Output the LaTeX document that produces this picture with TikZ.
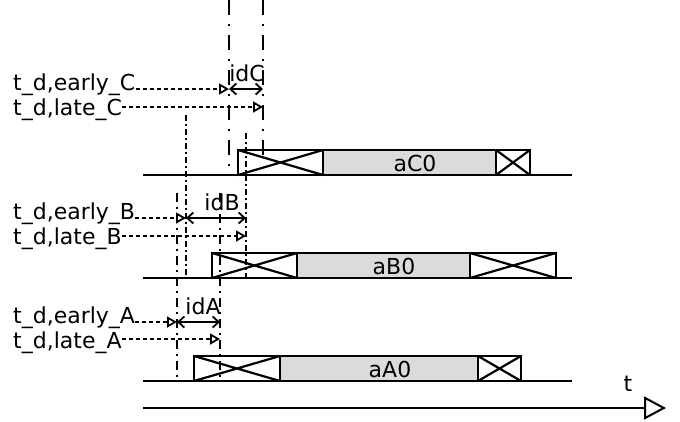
\documentclass[tikz,border=0pt]{standalone}
\usepackage{fontspec}
\setmainfont{DejaVu Sans}
\usetikzlibrary{arrows.meta}
\begin{document}
\begin{tikzpicture}[x=1pt,y=-1pt,
  lbl/.style={font=\fontsize{22}{26}\selectfont, inner sep=0pt, anchor=base west},
  idlbl/.style={font=\fontsize{22}{26}\selectfont, inner sep=0pt, anchor=base},
  seglbl/.style={font=\fontsize{22}{26}\selectfont, inner sep=0pt},
  tdarr/.style={line width=2pt, dash pattern=on 4pt off 3pt, -{Triangle[open,length=10pt,width=11pt,line width=1.8pt]}},
  idarr/.style={line width=2pt, {Straight Barb[length=6pt,width=11pt,line width=1.8pt]}-{Straight Barb[length=6pt,width=11pt,line width=1.8pt]}},
  dashC/.style={line width=2.2pt, dash pattern=on 15pt off 9pt on 2pt off 9pt},
  dashB/.style={line width=2.2pt, dash pattern=on 6pt off 3pt on 2pt off 3pt},
  dashA/.style={line width=2.2pt, dash pattern=on 9pt off 5pt on 2pt off 5pt},
  baseln/.style={line width=2.2pt},
  boxln/.style={line width=2.2pt},
  segfill/.style={fill=black!14},
]
\useasboundingbox (0,0) rectangle (680,421);

% ---------- C row ----------
\draw[baseln] (143,175) -- (572,175);
\fill[segfill] (323,150) rectangle (496,175);
\draw[boxln] (238,150) rectangle (530,175);
\draw[boxln] (323,150) -- (323,175) (496,150) -- (496,175);
\draw[boxln] (238,150) -- (323,175) (238,175) -- (323,150);
\draw[boxln] (496,150) -- (530,175) (496,175) -- (530,150);
\node[seglbl] (aC) at (415,163) {aC0};

% ---------- B row ----------
\draw[baseln] (143,278) -- (572,278);
\fill[segfill] (297,253) rectangle (470,278);
\draw[boxln] (212,253) rectangle (556,278);
\draw[boxln] (297,253) -- (297,278) (470,253) -- (470,278);
\draw[boxln] (212,253) -- (297,278) (212,278) -- (297,253);
\draw[boxln] (470,253) -- (556,278) (470,278) -- (556,253);
\node[seglbl] (aB) at (394,266) {aB0};

% ---------- A row ----------
\draw[baseln] (143,381) -- (572,381);
\fill[segfill] (280,356) rectangle (478,381);
\draw[boxln] (194,356) rectangle (521,381);
\draw[boxln] (280,356) -- (280,381) (478,356) -- (478,381);
\draw[boxln] (194,356) -- (280,381) (194,381) -- (280,356);
\draw[boxln] (478,356) -- (521,381) (478,381) -- (521,356);
\node[seglbl] (aA) at (390,369) {aA0};

% ---------- vertical marker lines ----------
\coordinate (Ctop1) at (229,0);   \coordinate (Cbot1) at (229,168);
\coordinate (Ctop2) at (263,0);   \coordinate (Cbot2) at (263,156);
\coordinate (Btop1) at (186,115); \coordinate (Bbot1) at (186,278);
\coordinate (Btop2) at (246,133); \coordinate (Bbot2) at (246,278);
\coordinate (Atop1) at (177,193); \coordinate (Abot1) at (177,380);
\coordinate (Atop2) at (220,193); \coordinate (Abot2) at (220,380);
\draw[dashC] (Ctop1) -- (Cbot1);
\draw[dashC] (Ctop2) -- (Cbot2);
\draw[dashB] (Btop1) -- (Bbot1);
\draw[dashB] (Btop2) -- (Bbot2);
\draw[dashA] (Atop1) -- (Abot1);
\draw[dashA] (Atop2) -- (Abot2);

% ---------- labels ----------
\node[lbl] (eC) at (13,90) {t\_d,early\_C};
\node[lbl] (lC) at (13,115) {t\_d,late\_C};
\node[lbl] (eB) at (13,219) {t\_d,early\_B};
\node[lbl] (lB) at (13,244) {t\_d,late\_B};
\node[lbl] (eA) at (13,323) {t\_d,early\_A};
\node[lbl] (lA) at (13,348) {t\_d,late\_A};

% ---------- arrow end points ----------
\coordinate (Ce) at (229,89);  \coordinate (Cl) at (263,107);
\coordinate (Be) at (186,218); \coordinate (Bl) at (246,236);
\coordinate (Ae) at (177,322); \coordinate (Al) at (220,339);

\draw[tdarr] (eC.east |- Ce) -- (Ce);
\draw[tdarr] (lC.east |- Cl) -- (Cl);
\draw[tdarr] (eB.east |- Be) -- (Be);
\draw[tdarr] (lB.east |- Bl) -- (Bl);
\draw[tdarr] (eA.east |- Ae) -- (Ae);
\draw[tdarr] (lA.east |- Al) -- (Al);

\draw[idarr] (Ce) -- (Ce -| Cl);
\draw[idarr] (Be) -- (Be -| Bl);
\draw[idarr] (Ae) -- (Ae -| Al);
\node[idlbl] (idC) at (247,81) {idC};
\node[idlbl] (idB) at (222,210) {idB};
\node[idlbl] (idA) at (203,314) {idA};

% ---------- time axis ----------
\coordinate (t0) at (143,408);
\coordinate (t1) at (666,408);
\draw[baseln, -{Triangle[open,length=22pt,width=23pt,line width=2pt]}] (t0) -- (t1);
\node[seglbl] (tl) at (628,384) {t};
\end{tikzpicture}
\end{document}
